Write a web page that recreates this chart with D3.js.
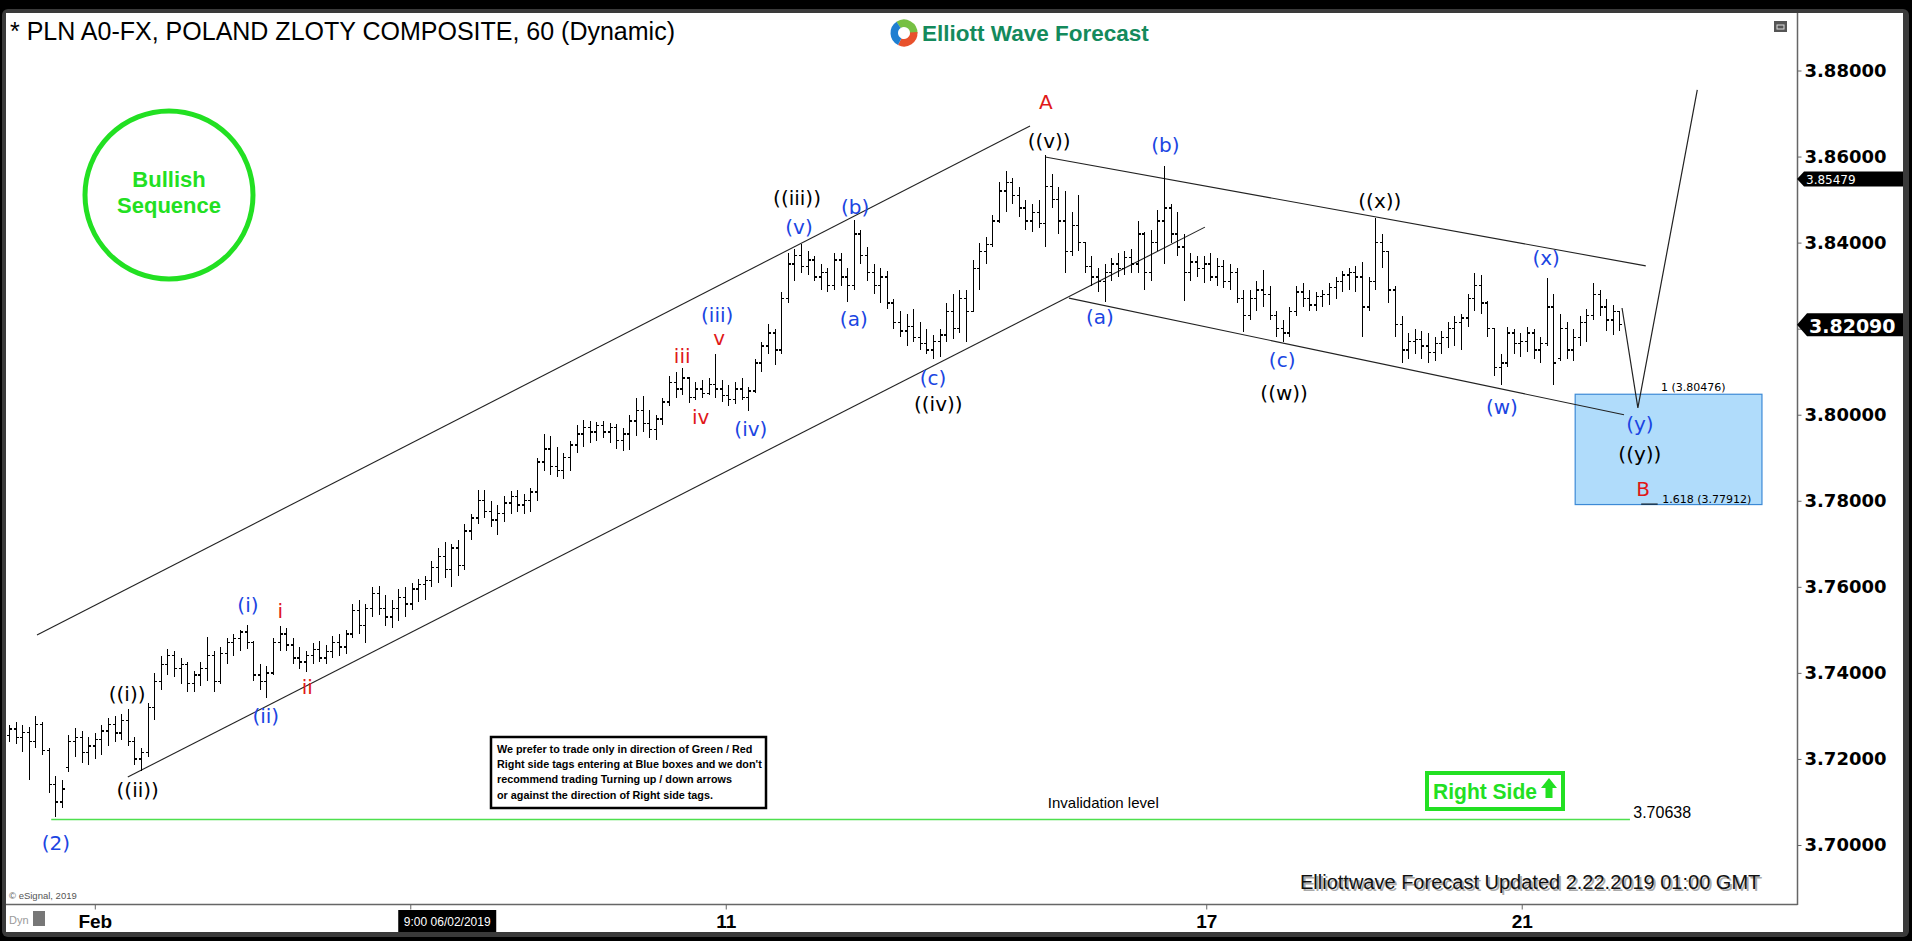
<!DOCTYPE html>
<html><head><meta charset="utf-8">
<script src="https://cdn.jsdelivr.net/npm/d3@7"></script>
<style>
html,body{margin:0;padding:0;background:#000;overflow:hidden;}
svg{display:block;}
</style></head><body>
<svg id="c" width="1912" height="941"></svg>
<script>
// ---------- DATA (2-hour OHLC bars) ----------
const high = [
3.7280,3.7285,3.7278,3.7275,3.7300,3.7285,
3.7225,3.7160,3.7150,3.7255,
3.7272,3.7265,3.7250,3.7260,3.7280,
3.7295,3.7300,3.7305,3.7315,
3.7250,3.7225,3.7330,
3.7400,3.7440,3.7455,
3.7450,3.7435,3.7425,3.7405,3.7425,3.7483,3.7450,3.7460,3.7480,
3.7490,3.7500,3.7512,
3.7475,3.7420,3.7415,
3.7480,3.7510,3.7505,
3.7480,3.7460,3.7450,
3.7470,3.7475,3.7465,3.7485,3.7490,3.7500,
3.7560,3.7570,3.7560,
3.7600,3.7602,3.7580,3.7570,3.7595,
3.7600,3.7610,3.7618,3.7625,
3.7660,3.7690,3.7705,3.7700,3.7710,3.7745,
3.7770,3.7826,3.7825,3.7800,3.7790,
3.7810,3.7822,3.7825,3.7815,3.7830,
3.7900,3.7956,3.7950,3.7925,3.7910,
3.7940,3.7975,3.7987,3.7985,3.7982,3.7985,3.7980,3.7978,3.7970,
3.8000,3.8040,3.8044,3.8010,3.8000,3.8040,
3.8090,3.8100,3.8108,
3.8085,3.8075,3.8080,3.8085,
3.8142,
3.8080,3.8070,3.8075,3.8085,3.8065,
3.8130,3.8170,3.8210,3.8200,3.8285,
3.8375,3.8385,3.8397,
3.8380,3.8370,3.8350,3.8340,3.8375,3.8375,
3.8340,3.8452,
3.8430,3.8390,3.8350,3.8340,3.8335,
3.8270,3.8240,3.8235,3.8245,3.8215,3.8200,3.8185,3.8200,
3.8260,3.8280,3.8290,3.8290,
3.8360,3.8400,3.8412,
3.8465,3.8540,3.8566,
3.8550,3.8530,3.8500,3.8490,3.8500,
3.8603,
3.8560,3.8530,3.8520,3.8470,3.8510,
3.8400,3.8370,3.8340,3.8350,
3.8365,3.8375,3.8380,3.8385,3.8450,
3.8425,3.8430,3.8475,3.8577,
3.8490,3.8470,3.8420,3.8375,3.8370,3.8370,3.8375,3.8365,
3.8360,3.8350,3.8340,3.8290,
3.8290,3.8310,3.8337,3.8300,3.8240,
3.8220,3.8250,
3.8300,3.8305,3.8290,3.8285,3.8290,
3.8305,3.8320,3.8335,3.8340,3.8345,3.8355,
3.8320,
3.8457,
3.8420,3.8380,
3.8300,3.8230,3.8190,3.8200,3.8195,3.8190,
3.8180,3.8195,3.8215,3.8230,3.8235,3.8280,
3.8329,3.8325,
3.8265,3.8200,3.8140,
3.8205,3.8200,3.8190,3.8205,3.8200,3.8180,
3.8317,3.8280,
3.8235,3.8215,3.8200,3.8230,3.8245,
3.8305,3.8290,3.8270,3.8255,3.8240
];
const low = [
3.7240,3.7235,3.7215,3.7150,3.7225,3.7210,
3.7120,3.7064,3.7085,3.7170,
3.7205,3.7190,3.7185,3.7200,3.7210,
3.7230,3.7240,3.7245,3.7230,
3.7185,3.7173,3.7205,
3.7290,3.7360,3.7395,
3.7390,3.7375,3.7355,3.7355,3.7370,3.7380,3.7355,3.7375,3.7420,
3.7440,3.7450,3.7455,
3.7380,3.7360,3.7341,
3.7395,3.7450,3.7450,
3.7420,3.7410,3.7402,
3.7420,3.7425,3.7420,3.7435,3.7440,3.7445,
3.7480,3.7490,3.7470,
3.7530,3.7535,3.7510,3.7505,3.7520,
3.7530,3.7545,3.7565,3.7570,
3.7600,3.7610,3.7620,3.7600,3.7625,3.7640,
3.7710,3.7745,3.7760,3.7740,3.7720,
3.7750,3.7770,3.7775,3.7770,3.7775,
3.7800,3.7870,3.7860,3.7855,3.7850,
3.7870,3.7910,3.7925,3.7935,3.7940,3.7945,3.7935,3.7920,3.7915,
3.7918,3.7950,3.7960,3.7945,3.7942,3.7975,
3.8020,3.8040,3.8045,
3.8028,3.8035,3.8040,3.8045,
3.8040,
3.8030,3.8020,3.8025,3.8035,3.8008,
3.8050,3.8100,3.8140,3.8115,3.8140,
3.8260,3.8310,3.8330,
3.8325,3.8310,3.8290,3.8285,3.8290,3.8300,
3.8263,3.8290,
3.8350,3.8310,3.8280,3.8260,3.8245,
3.8200,3.8180,3.8160,3.8170,3.8150,3.8140,3.8130,3.8135,
3.8170,3.8175,3.8190,3.8170,
3.8240,3.8290,3.8350,
3.8390,3.8445,3.8470,
3.8490,3.8460,3.8430,3.8425,3.8435,
3.8390,
3.8480,3.8420,3.8330,3.8370,3.8380,
3.8330,3.8300,3.8285,3.8263,
3.8310,3.8320,3.8325,3.8330,3.8330,
3.8290,3.8310,3.8380,3.8350,
3.8400,3.8370,3.8265,3.8310,3.8320,3.8305,3.8310,3.8300,
3.8295,3.8290,3.8260,3.8193,
3.8220,3.8240,3.8250,3.8220,3.8180,
3.8170,3.8180,
3.8230,3.8250,3.8240,3.8240,3.8250,
3.8255,3.8270,3.8285,3.8290,3.8285,3.8180,
3.8240,
3.8290,
3.8340,3.8260,
3.8180,3.8120,3.8130,3.8140,3.8130,3.8120,
3.8125,3.8140,3.8155,3.8160,3.8150,3.8205,
3.8240,3.8235,
3.8180,3.8090,3.8068,
3.8110,3.8140,3.8135,3.8145,3.8130,3.8120,
3.8160,3.8068,
3.8125,3.8130,3.8125,3.8160,3.8170,
3.8220,3.8230,3.8195,3.8185,3.8195
];
const open = [
3.7255,3.7270,3.7250,3.7262,3.7240,3.7280,
3.7220,3.7140,3.7100,3.7180,
3.7240,3.7250,3.7215,3.7230,3.7245,
3.7265,3.7280,3.7260,3.7290,
3.7240,3.7200,3.7215,
3.7320,3.7380,3.7420,
3.7440,3.7410,3.7420,3.7375,3.7395,3.7410,3.7440,3.7380,3.7445,
3.7470,3.7480,3.7495,
3.7470,3.7395,3.7380,
3.7400,3.7470,3.7490,
3.7465,3.7435,3.7425,
3.7440,3.7455,3.7435,3.7450,3.7470,3.7460,
3.7490,3.7545,3.7510,
3.7550,3.7585,3.7550,3.7530,3.7550,
3.7575,3.7560,3.7595,3.7605,
3.7615,3.7645,3.7670,3.7640,3.7690,3.7650,
3.7730,3.7760,3.7800,3.7775,3.7755,
3.7770,3.7795,3.7810,3.7790,3.7800,
3.7820,3.7890,3.7920,3.7880,3.7870,
3.7900,3.7930,3.7955,3.7970,3.7960,3.7975,3.7960,3.7970,3.7940,
3.7955,3.7985,3.8010,3.7980,3.7965,3.7990,
3.8030,3.8075,3.8060,
3.8085,3.8040,3.8060,3.8050,
3.8070,
3.8060,3.8045,3.8035,3.8060,3.8040,
3.8055,3.8120,3.8160,3.8190,3.8150,
3.8270,3.8350,3.8370,
3.8345,3.8360,3.8320,3.8330,3.8300,3.8360,
3.8320,3.8300,
3.8420,3.8370,3.8330,3.8300,3.8320,
3.8260,3.8215,3.8195,3.8205,3.8180,3.8165,3.8150,3.8170,
3.8185,3.8240,3.8200,3.8270,
3.8240,3.8340,3.8380,
3.8395,3.8450,3.8520,
3.8540,3.8510,3.8480,3.8450,3.8470,
3.8445,
3.8530,3.8500,3.8450,3.8380,3.8440,
3.8400,3.8345,3.8320,3.8310,
3.8330,3.8350,3.8340,3.8365,3.8350,
3.8420,3.8330,3.8400,3.8450,
3.8480,3.8420,3.8390,3.8330,3.8355,3.8340,3.8350,3.8320,
3.8345,3.8310,3.8330,3.8270,
3.8230,3.8270,3.8290,3.8280,3.8230,
3.8200,3.8190,
3.8240,3.8285,3.8270,3.8255,3.8275,
3.8280,3.8295,3.8310,3.8325,3.8330,3.8320,
3.8250,
3.8310,
3.8400,3.8380,
3.8290,3.8210,3.8150,3.8170,3.8175,3.8160,
3.8145,3.8165,3.8180,3.8200,3.8215,3.8225,
3.8270,3.8300,
3.8260,3.8200,3.8110,
3.8120,3.8190,3.8165,3.8170,3.8190,3.8150,
3.8165,3.8250,
3.8130,3.8200,3.8150,3.8180,3.8215,
3.8230,3.8280,3.8250,3.8220,3.8240
];
const close = [
3.7270,3.7250,3.7262,3.7240,3.7280,3.7220,
3.7140,3.7100,3.7130,3.7240,
3.7250,3.7215,3.7230,3.7245,3.7265,
3.7280,3.7260,3.7290,3.7240,
3.7200,3.7215,3.7320,
3.7380,3.7420,3.7440,
3.7410,3.7420,3.7375,3.7395,3.7410,3.7440,3.7380,3.7445,3.7470,
3.7480,3.7495,3.7470,
3.7395,3.7380,3.7400,
3.7470,3.7490,3.7465,
3.7435,3.7425,3.7440,
3.7455,3.7435,3.7450,3.7470,3.7460,3.7490,
3.7545,3.7510,3.7550,
3.7585,3.7550,3.7530,3.7550,3.7575,
3.7560,3.7595,3.7605,3.7615,
3.7645,3.7670,3.7640,3.7690,3.7650,3.7730,
3.7760,3.7800,3.7775,3.7755,3.7770,
3.7795,3.7810,3.7790,3.7800,3.7820,
3.7890,3.7920,3.7880,3.7870,3.7900,
3.7930,3.7955,3.7970,3.7960,3.7975,3.7960,3.7970,3.7940,3.7955,
3.7985,3.8010,3.7980,3.7965,3.7990,3.8030,
3.8075,3.8060,3.8085,
3.8040,3.8060,3.8050,3.8070,
3.8060,
3.8045,3.8035,3.8060,3.8040,3.8055,
3.8120,3.8160,3.8190,3.8150,3.8270,
3.8350,3.8370,3.8345,
3.8360,3.8320,3.8330,3.8300,3.8360,3.8320,
3.8300,3.8420,
3.8370,3.8330,3.8300,3.8320,3.8260,
3.8215,3.8195,3.8205,3.8180,3.8165,3.8150,3.8170,3.8185,
3.8240,3.8200,3.8270,3.8240,
3.8340,3.8380,3.8395,
3.8450,3.8520,3.8540,
3.8510,3.8480,3.8450,3.8470,3.8445,
3.8530,
3.8500,3.8450,3.8380,3.8440,3.8400,
3.8345,3.8320,3.8310,3.8330,
3.8350,3.8340,3.8365,3.8350,3.8420,
3.8330,3.8400,3.8450,3.8480,
3.8420,3.8390,3.8330,3.8355,3.8340,3.8350,3.8320,3.8345,
3.8310,3.8330,3.8270,3.8230,
3.8270,3.8290,3.8280,3.8230,3.8200,
3.8190,3.8240,
3.8285,3.8270,3.8255,3.8275,3.8280,
3.8295,3.8310,3.8325,3.8330,3.8320,3.8250,
3.8310,
3.8400,
3.8380,3.8290,
3.8210,3.8150,3.8170,3.8175,3.8160,3.8145,
3.8165,3.8180,3.8200,3.8215,3.8225,3.8270,
3.8300,3.8260,
3.8200,3.8110,3.8120,
3.8190,3.8165,3.8170,3.8190,3.8150,3.8165,
3.8250,3.8120,
3.8200,3.8150,3.8180,3.8215,3.8230,
3.8280,3.8250,3.8220,3.8240,3.8209
];

// axis ticks (3.82000 and "6" are covered by the price tag / cursor box in the original)
const yTicks = [3.70,3.72,3.74,3.76,3.78,3.80,3.82,3.84,3.86,3.88];
const yHiddenTicks = [3.82];
const xTickIdx = [13, 60.8, 108.6, 181.4, 229.2];
const xTickLabels = ["Feb", "", "11", "17", "21"];
const cursorLabel = {idx: 66.4, text: "9:00 06/02/2019"};

// price tags on right axis
const tagPrices = [3.85479, 3.82090];

// trend/channel lines [idx1, price1, idx2, price2]
const channelLines = [
  [4.24, 3.7488, 154.7, 3.8671],
  [18.0, 3.7158, 181.2, 3.8436],
  [157.0, 3.8599, 248.0, 3.8346],
  [160.6, 3.8271, 244.7, 3.8000]
];
const projIdx = [244.4, 246.8, 255.8];
const projPrice = [3.8248, 3.8016, 3.8755];

// blue target box
const boxIdx = [237.3, 265.6];
const boxPrice = [3.80476, 3.77912];
const fibText = ["1 (3.80476)", "1.618 (3.77912)"];

// invalidation
const invalidPrice = 3.70638;
const invalidIdx = [6.4, 245.6];

// wave labels
const waveText  = ["A","((v))","(b)","((x))","(x)","((iii))","(v)","(b)","(a)","(iii)","iii","v","iv","(iv)","(c)","((iv))","(a)","(c)","((w))","(w)","(y)","((y))","B","(i)","i","ii","(ii)","((i))","((ii))","(2)"];
const waveIdx   = [157.1,157.6,175.2,207.7,232.9,119.4,119.7,128.2,128.0,107.3,102.0,107.6,104.8,112.4,140.0,140.8,165.3,192.9,193.2,226.2,247.1,247.1,247.6,36.2,41.1,45.2,38.9,17.9,19.5,7.1];
const wavePrice = [3.8727,3.8636,3.8627,3.8497,3.8364,3.8504,3.8436,3.8483,3.8223,3.8232,3.8137,3.8178,3.7994,3.7967,3.8085,3.8025,3.8227,3.8127,3.8051,3.8018,3.7979,3.7909,3.7828,3.7558,3.7544,3.7367,3.7300,3.7351,3.7128,3.7005];
const waveColor = ["r","k","b","k","b","k","b","b","b","b","r","r","r","b","b","k","b","b","k","b","b","k","r","b","r","r","b","k","k","b"];

// ---------- DRAW ----------
const BLUE = "#1b45e2", RED = "#e01818", GREEN = "#22e022";
const colorMap = {r: RED, b: BLUE, k: "#000"};
const svg = d3.select("#c");

svg.append("rect").attr("width",1912).attr("height",941).attr("fill","#000");
svg.append("rect").attr("x",2).attr("y",9).attr("width",1907).attr("height",928).attr("rx",6).attr("fill","#3a3a3a");
svg.append("rect").attr("x",6).attr("y",13).attr("width",1897).attr("height",919).attr("fill","#fff");

const x = d3.scaleLinear().domain([0, 245]).range([9, 9 + 245*6.6]);
const y = d3.scaleLinear().domain([3.70, 3.88]).range([845, 70.5]);

// frame lines
svg.append("line").attr("x1",1797.5).attr("x2",1797.5).attr("y1",13).attr("y2",905).attr("stroke","#666").attr("stroke-width",1.5);
svg.append("line").attr("x1",6).attr("x2",1797.5).attr("y1",904.5).attr("y2",904.5).attr("stroke","#666").attr("stroke-width",1.5);

// y axis
const yAxis = svg.append("g").attr("transform","translate(1797.5,0)")
  .call(d3.axisRight(y).tickValues(yTicks).tickSize(4)
    .tickFormat(d => yHiddenTicks.includes(d) ? "" : d3.format(".5f")(d)));
yAxis.select(".domain").remove();
yAxis.selectAll(".tick line").attr("stroke","#666");
yAxis.selectAll("text").attr("font-family","DejaVu Sans, Verdana, sans-serif").attr("font-weight","bold")
  .attr("font-size","18px").attr("fill","#000").attr("x",7);

// x axis
const xAxis = svg.append("g").attr("transform","translate(0,904.5)")
  .call(d3.axisBottom(x).tickValues(xTickIdx).tickSize(5).tickFormat((d,i)=>xTickLabels[i]));
xAxis.select(".domain").remove();
xAxis.selectAll(".tick line").attr("stroke","#666");
xAxis.selectAll("text").attr("font-family","Liberation Sans, Arial, sans-serif").attr("font-weight","bold")
  .attr("font-size","19px").attr("fill","#000").attr("y",10);

// cursor date box
const cbx = x(cursorLabel.idx);
svg.append("rect").attr("x",cbx-49).attr("y",910).attr("width",98).attr("height",22).attr("fill","#000");
svg.append("text").attr("x",cbx).attr("y",926).attr("text-anchor","middle").attr("fill","#fff")
  .attr("font-family","Liberation Sans, Arial, sans-serif").attr("font-size","12px").text(cursorLabel.text);

// Dyn + lock
svg.append("text").attr("x",9).attr("y",924).attr("fill","#9a9a9a").attr("font-family","Liberation Sans, Arial, sans-serif").attr("font-size","11px").text("Dyn");
svg.append("rect").attr("x",33).attr("y",911).attr("width",12).attr("height",15).attr("fill","#777");
svg.append("text").attr("x",9).attr("y",899).attr("fill","#555").attr("font-family","Liberation Sans, Arial, sans-serif").attr("font-size","9.5px").text("© eSignal, 2019");

// blue box
svg.append("rect").attr("x",x(boxIdx[0])).attr("y",y(boxPrice[0]))
  .attr("width",x(boxIdx[1])-x(boxIdx[0])).attr("height",y(boxPrice[1])-y(boxPrice[0]))
  .attr("fill","#b0dcfb").attr("stroke","#3d8ad6").attr("stroke-width",1.2);
svg.append("text").attr("x",x(250.3)).attr("y",y(boxPrice[0])-3).attr("font-family","DejaVu Sans, Verdana, sans-serif").attr("font-size","11px").attr("fill","#000").text(fibText[0]);
svg.append("text").attr("x",x(250.5)).attr("y",y(boxPrice[1])-2).attr("font-family","DejaVu Sans, Verdana, sans-serif").attr("font-size","11px").attr("fill","#000").text(fibText[1]);
svg.append("line").attr("x1",x(247.3)).attr("x2",x(249.8)).attr("y1",y(boxPrice[1])-0.5).attr("y2",y(boxPrice[1])-0.5).attr("stroke","#000").attr("stroke-width",1);

// invalidation line
svg.append("line").attr("x1",x(invalidIdx[0])).attr("x2",x(invalidIdx[1]))
  .attr("y1",y(invalidPrice)+2).attr("y2",y(invalidPrice)+2).attr("stroke","#4ee04e").attr("stroke-width",1.5);
svg.append("text").attr("x",x(165.8)).attr("y",y(invalidPrice)-10).attr("text-anchor","middle")
  .attr("font-family","Liberation Sans, Arial, sans-serif").attr("font-size","15px").attr("fill","#000").text("Invalidation level");
svg.append("text").attr("x",x(246.1)).attr("y",y(invalidPrice)+0).attr("font-family","Liberation Sans, Arial, sans-serif")
  .attr("font-size","16px").attr("fill","#000").text(d3.format(".5f")(invalidPrice));

// channel lines
svg.append("g").selectAll("line").data(channelLines).join("line")
  .attr("x1",d=>x(d[0])).attr("y1",d=>y(d[1])).attr("x2",d=>x(d[2])).attr("y2",d=>y(d[3]))
  .attr("stroke","#222").attr("stroke-width",1.1);

// bars
const bars = svg.append("g").attr("stroke","#000").attr("stroke-width",1.4).attr("shape-rendering","crispEdges");
high.forEach((h,i)=>{
  const cx = Math.round(x(i)) + 0.5;
  bars.append("line").attr("x1",cx).attr("x2",cx).attr("y1",y(h)).attr("y2",y(low[i]));
  bars.append("line").attr("x1",cx-2.5).attr("x2",cx).attr("y1",y(open[i])).attr("y2",y(open[i]));
  bars.append("line").attr("x1",cx).attr("x2",cx+2.5).attr("y1",y(close[i])).attr("y2",y(close[i]));
});

// projection path
svg.append("path").attr("d", d3.line()(projIdx.map((d,i)=>[x(d), y(projPrice[i])])))
  .attr("fill","none").attr("stroke","#222").attr("stroke-width",1.2);

// wave labels
svg.append("g").selectAll("text").data(waveText).join("text")
  .attr("x",(d,i)=>x(waveIdx[i])).attr("y",(d,i)=>y(wavePrice[i]))
  .attr("text-anchor","middle").attr("dominant-baseline","central")
  .attr("font-family","DejaVu Sans, Verdana, sans-serif").attr("font-size","20px")
  .attr("fill",(d,i)=>colorMap[waveColor[i]]).text(d=>d);

// price tags
tagPrices.forEach((p,k)=>{
  const ty = y(p), hh = k===0 ? 7.5 : 11.5, tip = k===0 ? 7 : 10;
  svg.append("path").attr("d",`M1797,${ty} L${1797+tip},${ty-hh} L1903,${ty-hh} L1903,${ty+hh} L${1797+tip},${ty+hh} Z`).attr("fill","#000");
  svg.append("text").attr("x",1797+tip+2).attr("y",ty+1).attr("dominant-baseline","central")
    .attr("font-family","DejaVu Sans, Verdana, sans-serif").attr("font-size",k===0?"12px":"19px")
    .attr("font-weight",k===0?"normal":"bold").attr("fill","#fff").text(d3.format(".5f")(p));
});

// title
svg.append("text").attr("x",10).attr("y",40).attr("font-family","Liberation Sans, Arial, sans-serif")
  .attr("font-size","25px").attr("fill","#000").text("* PLN A0-FX, POLAND ZLOTY COMPOSITE, 60 (Dynamic)");

// logo
const logo = svg.append("g").attr("transform","translate(904,33)");
const arc = d3.arc().innerRadius(6).outerRadius(13.5);
[["#76c043",-0.6,1.6],["#e8512c",1.5,3.6],["#1f7fd1",3.6,5.7]].forEach(s=>{
  logo.append("path").attr("d",arc({startAngle:s[1],endAngle:s[2]})).attr("fill",s[0]);
});
svg.append("text").attr("x",922).attr("y",41).attr("font-family","Liberation Sans, Arial, sans-serif")
  .attr("font-weight","bold").attr("font-size","22.5px").attr("fill","#148a5c").text("Elliott Wave Forecast");

// top-right icon
svg.append("rect").attr("x",1774).attr("y",21).attr("width",13).attr("height",11).attr("fill","#555");
svg.append("rect").attr("x",1777).attr("y",25).attr("width",7).attr("height",4).attr("fill","none").attr("stroke","#ddd").attr("stroke-width",1);

// bullish sequence badge
svg.append("circle").attr("cx",169).attr("cy",195).attr("r",84).attr("fill","none").attr("stroke",GREEN).attr("stroke-width",5);
svg.append("text").attr("x",169).attr("y",187).attr("text-anchor","middle").attr("font-family","Liberation Sans, Arial, sans-serif")
  .attr("font-weight","bold").attr("font-size","22px").attr("fill",GREEN).text("Bullish");
svg.append("text").attr("x",169).attr("y",213).attr("text-anchor","middle").attr("font-family","Liberation Sans, Arial, sans-serif")
  .attr("font-weight","bold").attr("font-size","22px").attr("fill",GREEN).text("Sequence");

// disclaimer box
svg.append("rect").attr("x",491).attr("y",737).attr("width",275).attr("height",71).attr("fill","#fff").attr("stroke","#000").attr("stroke-width",2.5);
const disc = ["We prefer to trade only in direction of Green / Red","Right side tags entering at Blue boxes and we don't","recommend trading Turning up / down arrows","or against the direction of Right side tags."];
disc.forEach((t,i)=>svg.append("text").attr("x",497).attr("y",753+i*15.2).attr("font-family","Liberation Sans, Arial, sans-serif")
  .attr("font-weight","bold").attr("font-size","10.8px").attr("fill","#000").text(t));

// Right Side box
svg.append("rect").attr("x",1427).attr("y",773).attr("width",136).attr("height",36).attr("fill","#fff").attr("stroke",GREEN).attr("stroke-width",4);
svg.append("text").attr("x",1433).attr("y",799).attr("font-family","Liberation Sans, Arial, sans-serif").attr("font-weight","bold")
  .attr("font-size","22px").attr("textLength",104).attr("lengthAdjust","spacingAndGlyphs").attr("fill",GREEN).text("Right Side");
svg.append("path").attr("d","M1549,778 L1557,788 L1552.5,788 L1552.5,798 L1545.5,798 L1545.5,788 L1541,788 Z").attr("fill",GREEN);

// update footer with shadow
const foot = "Elliottwave Forecast Updated 2.22.2019 01:00 GMT";
svg.append("text").attr("x",1302).attr("y",891).attr("font-family","Liberation Sans, Arial, sans-serif").attr("font-size","20px").attr("fill","#aaa").text(foot);
svg.append("text").attr("x",1300).attr("y",889).attr("font-family","Liberation Sans, Arial, sans-serif").attr("font-size","20px").attr("fill","#111").text(foot);
</script>
</body></html>
